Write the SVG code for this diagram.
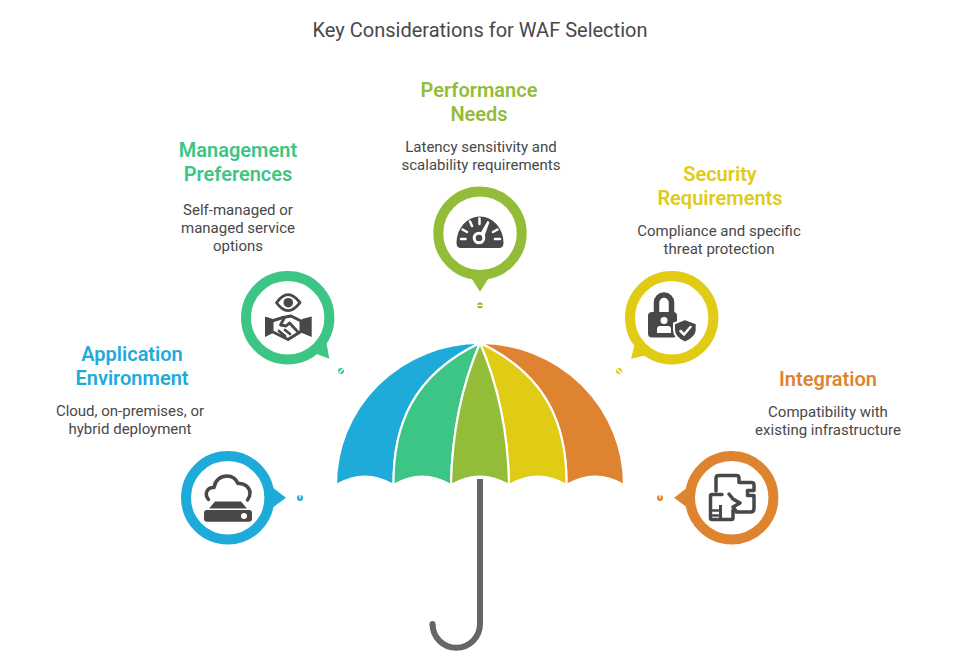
<svg xmlns="http://www.w3.org/2000/svg" width="960" height="659" viewBox="0 0 960 659">
<style>
text{font-family:Roboto,"Liberation Sans",sans-serif;text-anchor:middle}
.t{font-size:20px;fill:#484848}
.h{font-size:20px;font-weight:600}
.d{font-size:15px;fill:#484848}
.ring{fill:#fff;stroke-width:10}
.ic{fill:#484848}
.ol{fill:none;stroke:#484848;stroke-linejoin:round;stroke-linecap:round}
.w{fill:#fff}
.wl{fill:none;stroke:#fff;stroke-linecap:round;stroke-width:2.500}
.wedge{stroke:#fff;stroke-width:2.100;stroke-linejoin:miter}
.blue{fill:#1eabda}.green{fill:#3dc585}.olive{fill:#93bd39}.yellow{fill:#e0cb15}.orange{fill:#de8431}
.sblue{stroke:#1eabda}.sgreen{stroke:#3dc585}.solive{stroke:#93bd39}.syellow{stroke:#e0cb15}.sorange{stroke:#de8431}
.cut{stroke:#fff;stroke-width:1.400;fill:none}
</style>
<rect width="960" height="659" fill="#fff"/>
<text class="t" x="480" y="37">Key Considerations for WAF Selection</text>

<g id="umbrella">
<path d="M480 482V624A23.750 23.750 0 0 1 432.500 624" fill="none" stroke="#666" stroke-width="6"/>
<circle cx="432.500" cy="624" r="3" fill="#666"/>
<path class="wedge orange" d="M480 343A144 142 0 0 1 624 485Q595 468 566.500 485C567 425 547 375 480 343Z"/>
<path class="wedge blue" d="M480 343A144 142 0 0 0 336 485Q365 468 393.500 485C393 425 413 375 480 343Z"/>
<path class="wedge yellow" d="M480 343C547 375 567 425 566.500 485Q538 468 509 485C508 430 498 385 480 343Z"/>
<path class="wedge green" d="M480 343C413 375 393 425 393.500 485Q422 468 451 485C452 430 462 385 480 343Z"/>
<path class="wedge olive" d="M480 343C498 385 508 430 509 485Q480 468 451 485C452 430 462 385 480 343Z"/>
<rect x="477" y="479" width="6" height="12" fill="#666"/>
</g>

<g id="connectors">
<circle class="blue" cx="300" cy="498" r="3"/><path class="cut" d="M300 494.500V498.500"/>
<circle class="green" cx="341" cy="371" r="3"/><path class="cut" d="M339 373L343 369"/>
<circle class="olive" cx="480" cy="305.500" r="3"/><path class="cut" d="M477 305.500H483"/>
<circle class="yellow" cx="619" cy="371" r="3"/><path class="cut" d="M617 369L621 373"/>
<circle class="orange" cx="660" cy="498" r="3"/><path class="cut" d="M660 494.500V498.500"/>
</g>

<g id="node-application">
<path class="blue" d="M268 484L286 497.700L268 511Z"/>
<circle class="ring sblue" cx="227.700" cy="497.700" r="41.700"/>
<path class="ol" stroke-width="3.500" d="M208.500 499.500C204 494 207 487 214 487.500C215 480 221 476 227 476C232 476 236 479 238 483.500C245 483 250 488 250 493C250 496 249 498 247.500 500"/>
<path class="ic" d="M215 501.500H241L247 508.500H209Z"/>
<rect class="ic" x="204" y="510" width="48" height="11.700" rx="3"/>
<circle class="w" cx="244" cy="516" r="3"/>
<text class="h blue" x="132" y="361">Application</text>
<text class="h blue" x="132" y="385">Environment</text>
<text class="d" x="130" y="416">Cloud, on-premises, or</text>
<text class="d" x="130" y="434">hybrid deployment</text>
</g>

<g id="node-management">
<path class="green" d="M306 350L329.300 358.700L325 335Z"/>
<circle class="ring sgreen" cx="287.700" cy="317.700" r="41.700"/>
<path class="ol" stroke-width="2.800" d="M276.500 302.700Q288 286.500 300 302.700Q288 318.500 276.500 302.700Z"/>
<circle class="ic" cx="288.300" cy="302.700" r="4.800"/>
<path class="ic" d="M265 316.500L273 319V333L265 337ZM311.700 316.500L302 319V333L311.700 337Z"/>
<path class="ol w" stroke-width="3" d="M272 321L283 317.500L291 316L301 321V331.500L288 339.500L272 331.500Z"/>
<path class="ol" stroke-width="2.800" d="M284 318.500L280.500 325L286 326L289.500 323L298 332M279 331L285 336M285 330L290 334"/>
<text class="h green" x="238" y="157">Management</text>
<text class="h green" x="238" y="181">Preferences</text>
<text class="d" x="238" y="215">Self-managed or</text>
<text class="d" x="238" y="233">managed service</text>
<text class="d" x="238" y="251">options</text>
</g>

<g id="node-performance">
<path class="olive" d="M470 276L480 291.700L490 276Z"/>
<circle class="ring solive" cx="480" cy="233.300" r="41.700"/>
<path class="ic" d="M461 248Q456.500 248 456.500 243A23.500 26.500 0 0 1 503.500 243Q503.500 248 499 248Z"/>
<path class="wl" d="M461 239H465.500M462.500 229.500L467 232M470 221.500L472 226M479.500 218.500V224M493 232L497.500 229.500M495 239H500"/>
<path class="w" d="M480 234L487.500 221L489.500 222L484.500 236Z"/>
<circle cx="479" cy="238" r="4.800" fill="#484848" stroke="#fff" stroke-width="3"/>
<text class="h olive" x="479" y="97">Performance</text>
<text class="h olive" x="479" y="121">Needs</text>
<text class="d" x="481" y="152">Latency sensitivity and</text>
<text class="d" x="481" y="170">scalability requirements</text>
</g>

<g id="node-security">
<path class="yellow" d="M637 335L631 359L654 353Z"/>
<circle class="ring syellow" cx="671.700" cy="317.700" r="41.700"/>
<path class="ol" stroke-width="5.500" d="M656.500 313V302.500A7.500 7.500 0 0 1 671.500 302.500V313"/>
<rect class="ic" x="648" y="312" width="29" height="25.500" rx="4"/>
<circle class="w" cx="664" cy="320.500" r="3.500"/>
<path class="w" d="M657 333V329Q657 326 660 326H668Q671 326 671 329V333Z"/>
<path class="ic" stroke="#fff" stroke-width="2" d="M674 323.500L685 319L696.700 323.500V330C696.700 336 691 340 685 342.700C679 340 674 336 674 330Z"/>
<path class="wl" d="M680.500 331L684 334.500L690.500 327"/>
<text class="h yellow" x="720" y="181">Security</text>
<text class="h yellow" x="720" y="205">Requirements</text>
<text class="d" x="719" y="236">Compliance and specific</text>
<text class="d" x="719" y="254">threat protection</text>
</g>

<g id="node-integration">
<path class="orange" d="M692 484L674 497.700L692 511Z"/>
<circle class="ring sorange" cx="731.700" cy="497.700" r="41.700"/>
<path class="ol" stroke-width="3.500" d="M716 491V478Q716 475.500 719 475.500H736.500Q739 475.500 739 478V482.500H751.500Q754 482.500 754 485V490.500H747.500V495.500H754V508.500Q754 512 750.500 512H736"/>
<path class="ol" stroke-width="3.500" d="M712 494.500H722M712 494.500Q710.500 494.500 710.500 496V518Q710.500 519.500 712 519.500H731.500Q733 519.500 733 518V510"/>
<path class="ol" stroke-width="3.500" d="M729 494L733 499L740 503L733 507L736 511"/>
<path class="ic" d="M719 505H722V520H719Z"/>
<path class="ol" stroke-width="2.500" d="M713 510.500H718M713 515.500H718"/>
<text class="h orange" x="828" y="386">Integration</text>
<text class="d" x="828" y="417">Compatibility with</text>
<text class="d" x="828" y="435">existing infrastructure</text>
</g>
</svg>
